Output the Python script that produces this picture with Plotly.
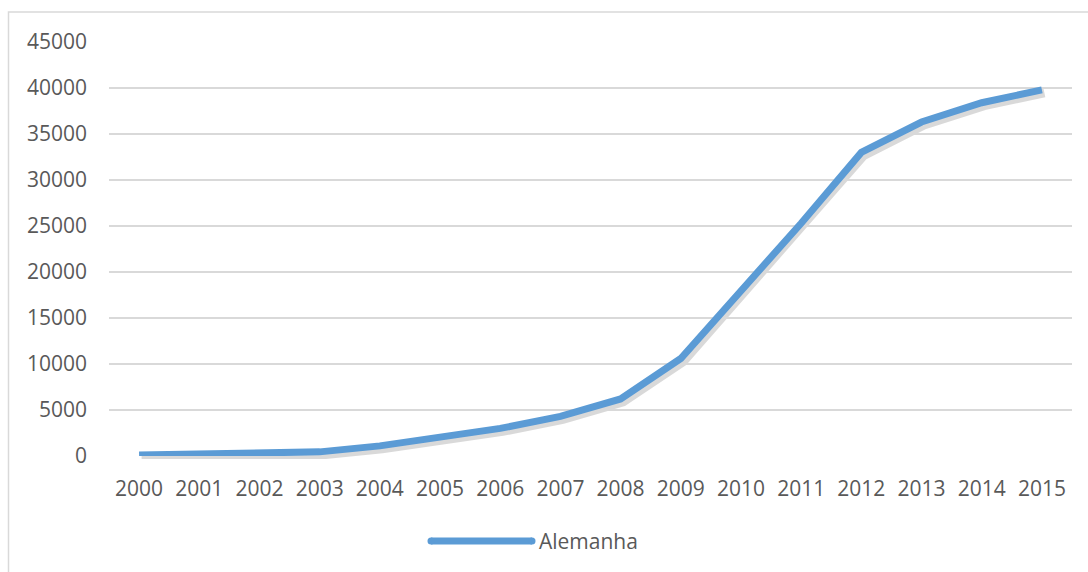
import plotly.graph_objects as go

# Série anual
anos = [2000, 2001, 2002, 2003, 2004, 2005, 2006, 2007, 2008,
        2009, 2010, 2011, 2012, 2013, 2014, 2015]
alemanha = [100, 200, 350, 450, 1100, 2100, 3000, 4300, 6200,
            10600, 18000, 25300, 33000, 36300, 38400, 39800]
serie_nome = "Alemanha"
y_ticks = list(range(0, 45001, 5000))

W, H = 1088, 572
# área do gráfico em pixels
X0, X1, Y0, Y1 = 109, 1072, 42, 456
# deslocamento da sombra
SX, SY = 2.5, 3.0
L, R, T, B = X0, W - X1 - 4, Y0, H - Y1 - 4
pw, ph = W - L - R, H - T - B


def px_x(x):
    return (x - L) / pw


def px_y(y):
    return (H - B - y) / ph


AZUL = "#5B9BD5"
CINZA_TXT = "#595959"
FONTE = "Open Sans"
FS = 21

fig = go.Figure()

# sombra suave da linha (par de eixos x/y, deslocado e invisível)
fig.add_trace(go.Scatter(
    x=anos, y=alemanha, mode="lines", xaxis="x", yaxis="y",
    line=dict(color="rgba(0,0,0,0.15)", width=9),
    hoverinfo="skip", showlegend=False,
))
# série principal (par de eixos x2/y2, visível)
fig.add_trace(go.Scatter(
    x=anos, y=alemanha, mode="lines", name=serie_nome, xaxis="x2", yaxis="y2",
    line=dict(color=AZUL, width=7), showlegend=False,
))

xr = [anos[0] - 0.5, anos[-1] + 0.5]
yr = [0, 45000]

fig.update_layout(
    width=W, height=H,
    margin=dict(l=L, r=R, t=T, b=B, pad=0),
    paper_bgcolor="white", plot_bgcolor="rgba(0,0,0,0)",
    font=dict(family=FONTE, size=FS, color=CINZA_TXT),
    xaxis=dict(range=xr, domain=[px_x(X0 + SX), px_x(X1 + SX)],
               visible=False, anchor="y"),
    yaxis=dict(range=yr, domain=[px_y(Y1 + SY), px_y(Y0 + SY)],
               visible=False, anchor="x"),
    xaxis2=dict(
        range=xr, tickmode="array", tickvals=anos, ticktext=[str(a) for a in anos],
        showgrid=False, zeroline=False, showline=False, ticks="",
        ticklabelstandoff=18, domain=[px_x(X0), px_x(X1)], anchor="y2",
    ),
    yaxis2=dict(
        range=yr, tickmode="array", tickvals=y_ticks,
        ticktext=[str(v) for v in y_ticks],
        showgrid=True, gridcolor="#D9D9D9", gridwidth=1.5,
        zeroline=False, showline=False, ticks="",
        ticklabelstandoff=21, domain=[px_y(Y1), px_y(Y0)], anchor="x2",
    ),
    showlegend=False,
)

# moldura do gráfico
fig.add_shape(type="rect", xref="paper", yref="paper",
              x0=px_x(8.5), x1=px_x(W + 5), y0=px_y(H + 30), y1=px_y(12),
              line=dict(color="#D9D9D9", width=1.5), fillcolor="rgba(0,0,0,0)",
              layer="below")

# legenda inferior
ly = px_y(541)
lx0, lx1 = 431, 532
fig.add_shape(type="line", xref="paper", yref="paper",
              x0=px_x(lx0), x1=px_x(lx1), y0=ly, y1=ly,
              line=dict(color=AZUL, width=7))
for cx in (lx0, lx1):
    fig.add_shape(type="circle", xref="paper", yref="paper",
                  xsizemode="pixel", ysizemode="pixel",
                  xanchor=px_x(cx), yanchor=ly,
                  x0=-3.5, x1=3.5, y0=-3.5, y1=3.5,
                  line=dict(width=0), fillcolor=AZUL)
fig.add_annotation(xref="paper", yref="paper", x=px_x(537), y=ly,
                   text=serie_nome, showarrow=False, xanchor="left", yanchor="middle",
                   font=dict(family=FONTE, size=FS, color=CINZA_TXT))

fig.write_html("out.html")
